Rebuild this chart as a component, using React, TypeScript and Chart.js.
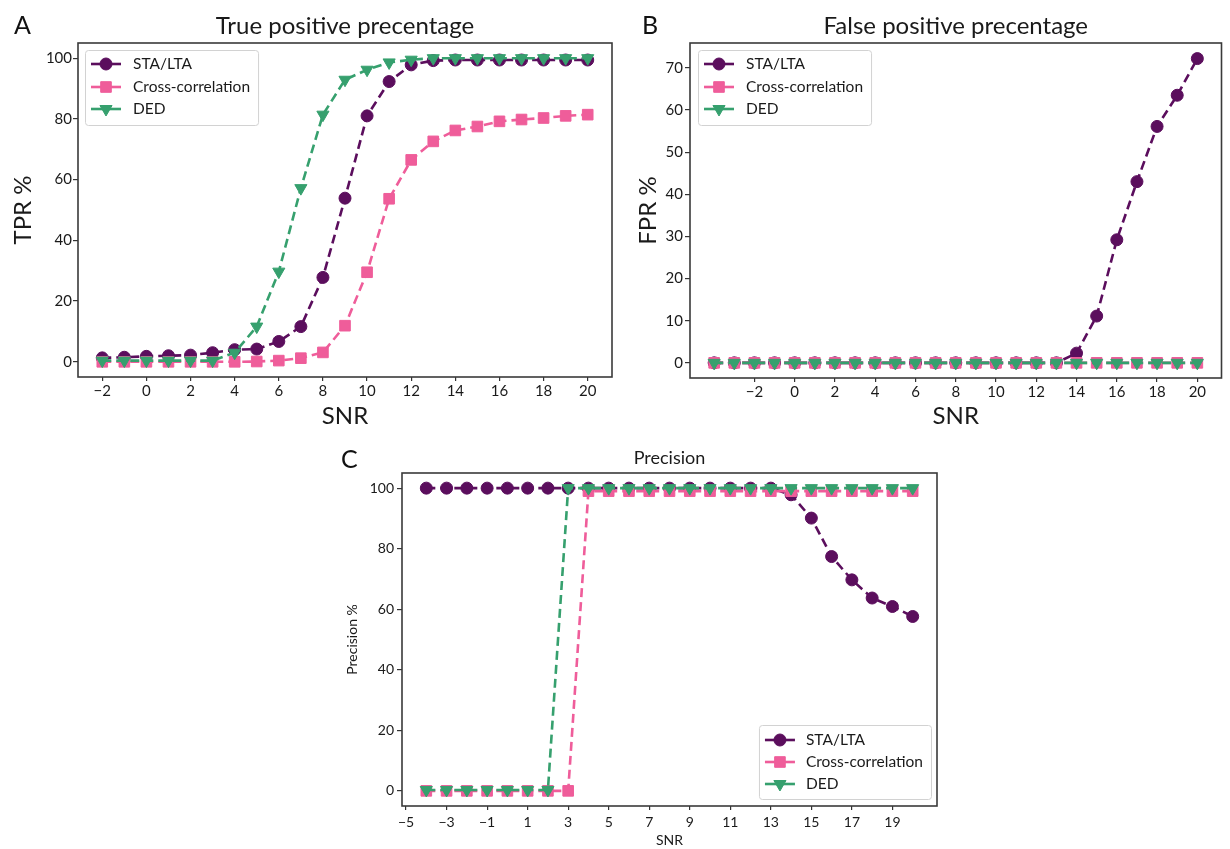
import React, { useEffect, useRef } from 'react';
import { Chart, registerables } from 'chart.js';
import * as helpers from 'chart.js/helpers';

Chart.register(...registerables);
Chart.defaults.font.family = 'Lato';

// ---------------- data ----------------
const SERIES_NAMES = ['STA/LTA', 'Cross-correlation', 'DED'];

const SNR_A = [-2, -1, 0, 1, 2, 3, 4, 5, 6, 7, 8, 9, 10, 11, 12, 13, 14, 15, 16, 17, 18, 19, 20];
const SNR_BC = [-4, -3, -2, -1, 0, 1, 2, 3, 4, 5, 6, 7, 8, 9, 10, 11, 12, 13, 14, 15, 16, 17, 18, 19, 20];

const TPR_STA = [1.3, 1.5, 1.8, 2, 2.2, 3, 4, 4.2, 6.7, 11.6, 27.8, 53.9, 81, 92.3, 97.8, 99.2, 99.4, 99.4, 99.4, 99.4, 99.4, 99.4, 99.4];
const TPR_CC = [0, 0, 0, 0, 0, 0, 0, 0.1, 0.4, 1.2, 3.1, 11.9, 29.5, 53.7, 66.5, 72.6, 76.2, 77.5, 79.2, 79.8, 80.3, 81, 81.4];
const TPR_DED = [0.4, 0.4, 0.4, 0.4, 0.4, 0.4, 3, 11.6, 29.7, 57.2, 81.4, 92.9, 96.2, 98.6, 99.5, 100, 100, 100, 100, 100, 100, 100, 100];

const FPR_STA = [0, 0, 0, 0, 0, 0, 0, 0, 0, 0, 0, 0, 0, 0, 0, 0, 0, 0, 2.3, 11.1, 29.2, 43, 56.1, 63.5, 72.2];
const FPR_CC = [0, 0, 0, 0, 0, 0, 0, 0, 0, 0, 0, 0, 0, 0, 0, 0, 0, 0, 0, 0, 0, 0, 0, 0, 0];
const FPR_DED = [0, 0, 0, 0, 0, 0, 0, 0, 0, 0, 0, 0, 0, 0, 0, 0, 0, 0, 0, 0, 0, 0, 0, 0, 0];

const PREC_STA = [100, 100, 100, 100, 100, 100, 100, 100, 100, 100, 100, 100, 100, 100, 100, 100, 100, 100, 97.8, 90.1, 77.4, 69.7, 63.7, 60.9, 57.6];
const PREC_CC = [0, 0, 0, 0, 0, 0, 0, 0, 99, 99, 99, 99, 99, 99, 99, 99, 99, 99, 99, 99, 99, 99, 99, 99, 99];
const PREC_DED = [0.3, 0.3, 0.3, 0.3, 0.3, 0.3, 0.3, 100, 100, 100, 100, 100, 100, 100, 100, 100, 100, 100, 100, 100, 100, 100, 100, 100, 100];

const X_TICKS_A = [-2, 0, 2, 4, 6, 8, 10, 12, 14, 16, 18, 20];
const X_TICKS_B = [-2, 0, 2, 4, 6, 8, 10, 12, 14, 16, 18, 20];
const X_TICKS_C = [-5, -3, -1, 1, 3, 5, 7, 9, 11, 13, 15, 17, 19];
const Y_TICKS_A = [0, 20, 40, 60, 80, 100];
const Y_TICKS_B = [0, 10, 20, 30, 40, 50, 60, 70];
const Y_TICKS_C = [0, 20, 40, 60, 80, 100];

// ---------------- styles ----------------
const COLORS = ['#5b0e5d', '#ef5d9a', '#36a06e'];
const POINT_STYLES = ['circle', 'rect', 'triangle'];
const POINT_RADII = [6, 7.5, 7];
const POINT_ROT = [0, 0, 180];
const DRAW_ORDER = [3, 2, 1];
const TEXT = '#1a1a1a';

const fmt = (v: number) => (v < 0 ? '\u2212' + Math.abs(v) : String(v));

function makeDatasets(xs: number[], series: number[][]) {
  return series.map((ys, i) => ({
    label: SERIES_NAMES[i],
    data: xs.map((x, k) => ({ x, y: ys[k] })),
    borderColor: COLORS[i],
    backgroundColor: COLORS[i],
    pointBackgroundColor: COLORS[i],
    pointBorderColor: COLORS[i],
    pointBorderWidth: 1,
    pointStyle: POINT_STYLES[i],
    pointRadius: POINT_RADII[i],
    pointRotation: POINT_ROT[i],
    borderWidth: 2.6,
    borderDash: [9, 5],
    tension: 0,
    fill: false,
    order: DRAW_ORDER[i],
  }));
}

const framePlugin = {
  id: 'frame',
  afterDatasetsDraw(chart: any) {
    const { ctx, chartArea: a } = chart;
    ctx.save();
    ctx.strokeStyle = '#3a3a3a';
    ctx.lineWidth = 1.6;
    ctx.setLineDash([]);
    ctx.strokeRect(a.left, a.top, a.right - a.left, a.bottom - a.top);
    ctx.restore();
  },
};

const legendPlugin = {
  id: 'boxLegend',
  afterDraw(chart: any, _args: any, opts: any) {
    if (!opts || !opts.corner) return;
    const { ctx, chartArea: a } = chart;
    const ds = chart.data.datasets;
    ctx.save();
    ctx.font = `${opts.fontSize}px Lato`;
    const maxW = Math.max(...ds.map((d: any) => ctx.measureText(d.label).width));
    const w = opts.textOffset + maxW + 8;
    const h = opts.height;
    const x = opts.corner === 'tl' ? a.left + opts.insetX : a.right - opts.insetX - w;
    const y = opts.corner === 'tl' ? a.top + opts.insetY : a.bottom - opts.insetY - h;
    ctx.fillStyle = 'rgba(255,255,255,0.85)';
    ctx.strokeStyle = '#d2d2d2';
    ctx.lineWidth = 1;
    ctx.beginPath();
    if ((ctx as any).roundRect) (ctx as any).roundRect(x + 0.5, y + 0.5, w, h, 3);
    else ctx.rect(x + 0.5, y + 0.5, w, h);
    ctx.fill();
    ctx.stroke();
    ds.forEach((d: any, k: number) => {
      const cy = y + opts.rows[k];
      ctx.setLineDash([]);
      ctx.strokeStyle = d.borderColor;
      ctx.lineWidth = 2.6;
      ctx.beginPath();
      ctx.moveTo(x + 6, cy);
      ctx.lineTo(x + 36, cy);
      ctx.stroke();
      ctx.fillStyle = d.pointBackgroundColor;
      ctx.strokeStyle = d.pointBorderColor;
      ctx.lineWidth = 1;
      helpers.drawPoint(ctx, { pointStyle: d.pointStyle, radius: d.pointRadius, rotation: d.pointRotation, borderWidth: 1 }, x + 21, cy);
      ctx.fillStyle = TEXT;
      ctx.textBaseline = 'middle';
      ctx.textAlign = 'left';
      ctx.fillText(d.label, x + opts.textOffset, cy);
    });
    ctx.restore();
  },
};

interface PanelCfg {
  left: number; top: number; width: number; height: number;
  padLeft: number; padRight: number;
  yWidth: number; xHeight: number;
  xs: number[]; series: number[][];
  xMin: number; xMax: number; yMin: number; yMax: number;
  xTicks: number[]; yTicks: number[];
  title: string; titleSize: number; titlePad: { top: number; bottom: number };
  xTitle: string; yTitle: string; axisTitleSize: number; xTitlePadBottom: number; yTitlePadTop: number;
  tickSize: number; xTickPad: number; yTickPad: number;
  legend: any;
}

const PANELS: PanelCfg[] = [
  {
    left: 0, top: 0, width: 640, height: 440, padLeft: 6, padRight: 28, yWidth: 72, xHeight: 63,
    xs: SNR_A, series: [TPR_STA, TPR_CC, TPR_DED], xMin: -3.1, xMax: 21.1, yMin: -5, yMax: 105,
    xTicks: X_TICKS_A, yTicks: Y_TICKS_A,
    title: 'True positive precentage', titleSize: 24, titlePad: { top: 11.6, bottom: 2.6 },
    xTitle: 'SNR', yTitle: 'TPR %', axisTitleSize: 24, xTitlePadBottom: 9.6, yTitlePadTop: 2.6,
    tickSize: 15, xTickPad: 1, yTickPad: 1,
    legend: { corner: 'tl', insetX: 7, insetY: 7, height: 75, rows: [14, 37, 59], textOffset: 48, fontSize: 15.5 },
  },
  {
    left: 630, top: 0, width: 600, height: 440, padLeft: 0, padRight: 4, yWidth: 60, xHeight: 62,
    xs: SNR_BC, series: [FPR_STA, FPR_CC, FPR_DED], xMin: -5.2, xMax: 21.2, yMin: -3.6, yMax: 75.9,
    xTicks: X_TICKS_B, yTicks: Y_TICKS_B,
    title: 'False positive precentage', titleSize: 24, titlePad: { top: 11.6, bottom: 2.6 },
    xTitle: 'SNR', yTitle: 'FPR %', axisTitleSize: 24, xTitlePadBottom: 9.6, yTitlePadTop: 3.6,
    tickSize: 15, xTickPad: 1, yTickPad: 2,
    legend: { corner: 'tl', insetX: 8, insetY: 7, height: 75, rows: [14, 37, 59], textOffset: 48, fontSize: 15.5 },
  },
  {
    left: 330, top: 430, width: 620, height: 419, padLeft: 8, padRight: 13, yWidth: 64, xHeight: 43,
    xs: SNR_BC, series: [PREC_STA, PREC_CC, PREC_DED], xMin: -5.2, xMax: 21.2, yMin: -5, yMax: 105,
    xTicks: X_TICKS_C, yTicks: Y_TICKS_C,
    title: 'Precision', titleSize: 18, titlePad: { top: 17.7, bottom: 3.7 },
    xTitle: 'SNR', yTitle: 'Precision %', axisTitleSize: 14, xTitlePadBottom: 0.6, yTitlePadTop: 5.6,
    tickSize: 14, xTickPad: 3.6, yTickPad: 3,
    legend: { corner: 'br', insetX: 6, insetY: 7, height: 74, rows: [15, 37, 59], textOffset: 47, fontSize: 15.5 },
  },
];

function Panel({ cfg }: { cfg: PanelCfg }) {
  const ref = useRef<HTMLCanvasElement | null>(null);
  useEffect(() => {
    if (!ref.current) return;
    const chart = new Chart(ref.current, {
      type: 'line',
      data: { datasets: makeDatasets(cfg.xs, cfg.series) as any },
      plugins: [framePlugin, legendPlugin],
      options: {
        animation: false,
        responsive: false,
        maintainAspectRatio: false,
        layout: { padding: { left: cfg.padLeft, right: cfg.padRight, top: 0, bottom: 0 } },
        plugins: {
          legend: { display: false },
          tooltip: { enabled: false },
          title: {
            display: true,
            text: cfg.title,
            fullSize: false,
            color: TEXT,
            font: { size: cfg.titleSize, weight: 'normal' as any, lineHeight: 1.2 },
            padding: cfg.titlePad,
          },
          boxLegend: cfg.legend,
        } as any,
        scales: {
          x: {
            type: 'linear',
            min: cfg.xMin,
            max: cfg.xMax,
            afterBuildTicks: (s: any) => { s.ticks = cfg.xTicks.map((v) => ({ value: v })); },
            afterFit: (s: any) => { s.height = cfg.xHeight; s.paddingLeft = 0; s.paddingRight = 0; },
            ticks: { autoSkip: false, maxRotation: 0, padding: cfg.xTickPad, color: TEXT, font: { size: cfg.tickSize }, callback: (v: any) => fmt(Number(v)) },
            grid: { drawOnChartArea: false, drawTicks: true, tickLength: 4, color: '#333', lineWidth: 1.2 },
            border: { display: false },
            title: { display: true, text: cfg.xTitle, color: TEXT, font: { size: cfg.axisTitleSize, lineHeight: 1.2 }, padding: { top: 0, bottom: cfg.xTitlePadBottom } },
          },
          y: {
            type: 'linear',
            min: cfg.yMin,
            max: cfg.yMax,
            afterBuildTicks: (s: any) => { s.ticks = cfg.yTicks.map((v) => ({ value: v })); },
            afterFit: (s: any) => { s.width = cfg.yWidth; s.paddingTop = 0; s.paddingBottom = 0; },
            ticks: { autoSkip: false, padding: cfg.yTickPad, color: TEXT, font: { size: cfg.tickSize }, callback: (v: any) => fmt(Number(v)) },
            grid: { drawOnChartArea: false, drawTicks: true, tickLength: 5, color: '#333', lineWidth: 1.2 },
            border: { display: false },
            title: { display: true, text: cfg.yTitle, color: TEXT, font: { size: cfg.axisTitleSize, lineHeight: 1.2 }, padding: { top: cfg.yTitlePadTop, bottom: 0 } },
          },
        },
      },
    });
    return () => chart.destroy();
  }, [cfg]);
  return (
    <canvas
      ref={ref}
      width={cfg.width}
      height={cfg.height}
      style={{ position: 'absolute', left: cfg.left, top: cfg.top, width: cfg.width, height: cfg.height }}
    />
  );
}

const LETTERS = [
  { t: 'A', left: 14, top: 12 },
  { t: 'B', left: 642, top: 12 },
  { t: 'C', left: 341, top: 446 },
];

export default function App() {
  useEffect(() => {
    document.body.style.margin = '0';
  }, []);
  return (
    <div style={{ position: 'absolute', left: 0, top: 0, width: 1230, height: 849, background: '#fff', overflow: 'hidden' }}>
      {PANELS.map((p, i) => (
        <Panel key={i} cfg={p} />
      ))}
      {LETTERS.map((l) => (
        <div
          key={l.t}
          style={{ position: 'absolute', left: l.left, top: l.top, fontFamily: 'Lato', fontSize: 25, lineHeight: '1', color: '#111' }}
        >
          {l.t}
        </div>
      ))}
    </div>
  );
}
